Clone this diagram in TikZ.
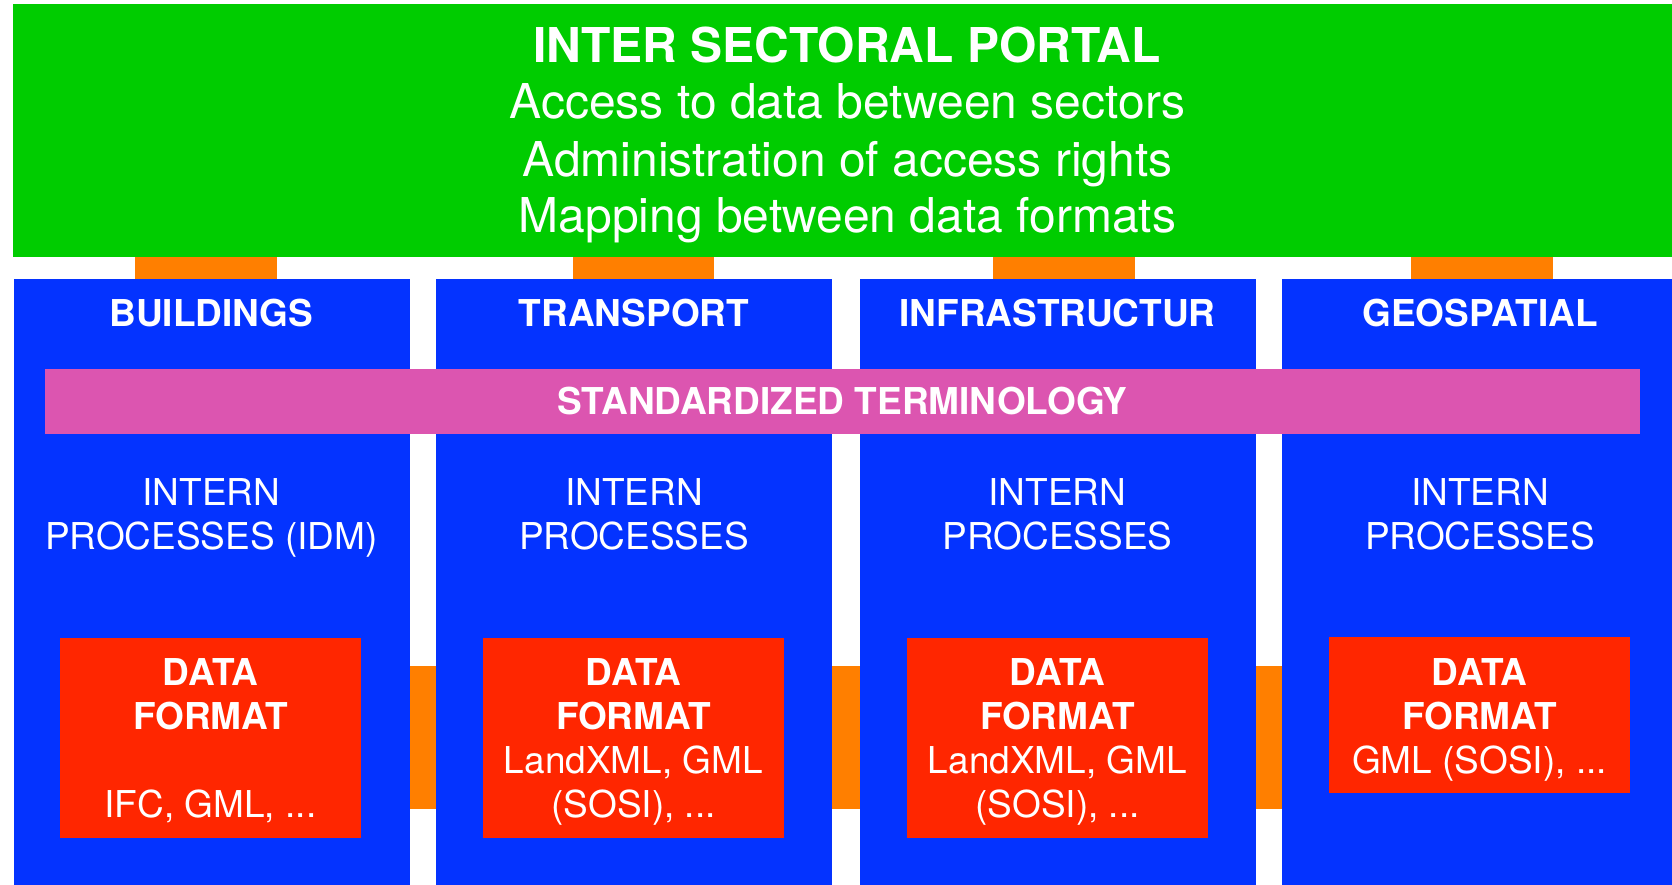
\documentclass[tikz,border=0pt]{standalone}
\usepackage{fontspec}
\setmainfont{TeX Gyre Heros}
\usetikzlibrary{positioning}
\definecolor{portalgreen}{HTML}{00CC00}
\definecolor{sectorblue}{HTML}{0433FF}
\definecolor{linkorange}{HTML}{FF7F00}
\definecolor{termpink}{HTML}{DC55B0}
\definecolor{formatred}{HTML}{FF2600}

\begin{document}
\begin{tikzpicture}[x=1pt, y=-1pt,
  block/.style={inner sep=0pt, outer sep=0pt},
  sector/.style={block, fill=sectorblue, minimum width=396pt, minimum height=606pt},
  format/.style={block, fill=formatred, minimum width=301pt},
  link/.style={fill=linkorange},
  txt/.style={text=white, inner sep=0pt, align=center,
    font=\fontsize{37}{44.2}\selectfont},
  head/.style={txt, anchor=base, font=\fontsize{37}{44.2}\selectfont\bfseries},
  big/.style={txt, anchor=base, font=\fontsize{48}{56}\selectfont}]
  % ── page ──
  \fill[white] (0,0) rectangle (1672,885);
  \useasboundingbox (0,0) rectangle (1672,885);

  % Portal on top
  \node[block, fill=portalgreen, minimum width=1659pt, minimum height=253pt]
    (portal) at (842.5,130.5) {};
  \node[big, font=\fontsize{48}{56}\selectfont\bfseries] (ptitle) at (847,62.7)
    {INTER SECTORAL PORTAL};
  \node[big] (pline1) at (847.5,118.3) {Access to data between sectors};
  \node[big] (pline2) at (847.5,176.7) {Administration of access rights};
  \node[big] (pline3) at (847.5,232.3) {Mapping between data formats};

  % Sector columns
  \node[sector] (buildings) at (211.5,582) {};
  \node[sector] (transport) at (634,582) {};
  \node[sector] (infra) at (1057.5,582) {};
  \node[sector] (geo) at (1480,582) {};

  % Links portal -- sectors
  \fill[link] (portal.south -| 135,0) rectangle (buildings.north -| 277,0);
  \fill[link] (portal.south -| 573,0) rectangle (transport.north -| 714,0);
  \fill[link] (portal.south -| 993,0) rectangle (infra.north -| 1135,0);
  \fill[link] (portal.south -| 1411,0) rectangle (geo.north -| 1553,0);

  % Links between neighbouring sectors
  \fill[link] (buildings.east |- 0,666) rectangle (transport.west |- 0,809);
  \fill[link] (transport.east |- 0,666) rectangle (infra.west |- 0,809);
  \fill[link] (infra.east |- 0,666) rectangle (geo.west |- 0,809);

  % Sector names
  \node[head] (hbuild) at (211.5,326) {BUILDINGS};
  \node[head] (htrans) at (634,326) {TRANSPORT};
  \node[head] (hinfra) at (1057.5,326) {INFRASTRUCTUR};
  \node[head] (hgeo) at (1480,326) {GEOSPATIAL};

  % Terminology band across all sectors
  \node[block, fill=termpink, minimum width=1595pt, minimum height=64.5pt,
    text=white, font=\fontsize{37}{44.2}\selectfont\bfseries]
    (term) at (842.4,401.3) {STANDARDIZED TERMINOLOGY};

  % Intern processes
  \node[txt, anchor=north] (pbuild) at (211.5,478.4) {INTERN\\PROCESSES (IDM)};
  \node[txt, anchor=north] (ptrans) at (634,478.4) {INTERN\\PROCESSES};
  \node[txt, anchor=north] (pinfra) at (1057.5,478.4) {INTERN\\PROCESSES};
  \node[txt, anchor=north] (pgeo) at (1480,478.4) {INTERN\\PROCESSES};

  % Data formats
  \node[format, minimum height=200pt] (fbuild) at (210.5,738) {};
  \node[format, minimum height=200pt] (ftrans) at (633.5,738) {};
  \node[format, minimum height=200pt] (finfra) at (1057.5,738) {};
  \node[format, minimum height=156pt] (fgeo) at (1479.5,715) {};

  \node[txt, anchor=north] (tbuild) at (210.5,658)
    {\textbf{DATA}\\\textbf{FORMAT}\\[44.2pt]IFC, GML, ...};
  \node[txt, anchor=north] (ttrans) at (633.5,658)
    {\textbf{DATA}\\\textbf{FORMAT}\\LandXML, GML\\(SOSI), ...};
  \node[txt, anchor=north] (tinfra) at (1057.5,658)
    {\textbf{DATA}\\\textbf{FORMAT}\\LandXML, GML\\(SOSI), ...};
  \node[txt, anchor=north] (tgeo) at (1479.5,658)
    {\textbf{DATA}\\\textbf{FORMAT}\\GML (SOSI), ...};
\end{tikzpicture}
\end{document}
